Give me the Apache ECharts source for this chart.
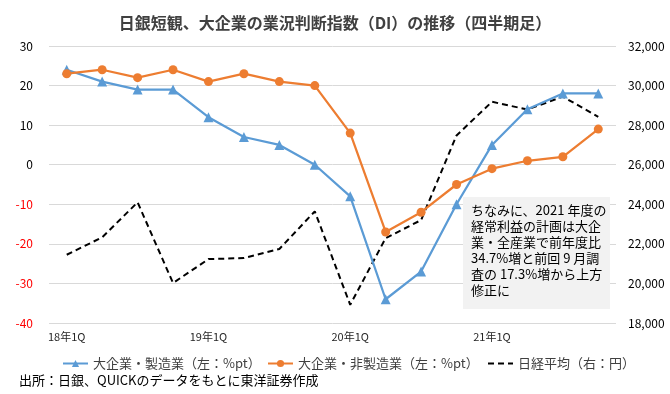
<!DOCTYPE html>
<html><head><meta charset="utf-8">
<script src="https://cdn.jsdelivr.net/npm/echarts@6/dist/echarts.min.js"></script>
<style>html,body{margin:0;padding:0;background:#fff}#c{width:670px;height:394px}</style>
</head><body><div id="c"></div>
<script>
const categories = ['18年1Q','18年2Q','18年3Q','18年4Q','19年1Q','19年2Q','19年3Q','19年4Q','20年1Q','20年2Q','20年3Q','20年4Q','21年1Q','21年2Q','21年3Q','21年4Q'];
const manufacturing = [24,21,19,19,12,7,5,0,-8,-34,-27,-10,5,14,18,18];
const nonManufacturing = [23,24,22,24,21,23,21,20,8,-17,-12,-5,-1,1,2,9];
const nikkei = [21450,22330,24100,20020,21230,21280,21740,23640,18920,22290,23200,27480,29180,28790,29440,28420];
const noteLines = ['ちなみに、2021 年度の','経常利益の計画は大企','業・全産業で前年度比','34.7%増と前回 9 月調','査の 17.3%増から上方','修正に'];
const seriesNames = ['大企業・製造業（左：%pt）','大企業・非製造業（左：%pt）','日経平均（右：円）'];

const FONT = '"Noto Sans CJK JP","Noto Sans",sans-serif';
const legendLefts = [57,262,482];
const chart = echarts.init(document.getElementById('c'));
chart.setOption({
  animation:false,
  backgroundColor:'#fff',
  textStyle:{fontFamily:FONT},
  title:{text:'日銀短観、大企業の業況判断指数（DI）の推移（四半期足）',left:'center',top:10,
    textStyle:{fontSize:16,fontWeight:'bold',color:'#404040',fontFamily:FONT}},
  grid:{left:49,right:54,top:46,bottom:71},
  legend:seriesNames.map(function(n,i){
    var d = i===2 ? {name:n,itemStyle:{opacity:0}} : {name:n};
    return {left:legendLefts[i],top:352,itemWidth:25,itemHeight:9,
      textStyle:{fontSize:13,color:'#404040',fontFamily:FONT},data:[d]};}),
  xAxis:{type:'category',data:categories,boundaryGap:true,
    axisLine:{show:false},axisTick:{show:false},
    axisLabel:{interval:3,fontSize:11,color:'#262626',margin:8,fontFamily:FONT}},
  yAxis:[
    {type:'value',min:-40,max:30,interval:10,position:'left',
     axisLine:{show:false},axisTick:{show:false},
     splitLine:{lineStyle:{color:'#d9d9d9',width:1}},
     axisLabel:{fontSize:12,margin:16,fontFamily:FONT,
       color:function(v){return v<0?'#ff0000':'#000000';}}},
    {type:'value',min:18000,max:32000,interval:2000,position:'right',
     axisLine:{show:false},axisTick:{show:false},splitLine:{show:false},
     axisLabel:{fontSize:12,margin:12,color:'#000',fontFamily:FONT,
       formatter:function(v){return v.toLocaleString('en-US');}}}
  ],
  series:[
    {name:seriesNames[0],type:'line',yAxisIndex:0,data:manufacturing,
     symbol:'triangle',symbolSize:10,lineStyle:{color:'#5b9bd5',width:2.25},
     itemStyle:{color:'#5b9bd5'},z:3},
    {name:seriesNames[1],type:'line',yAxisIndex:0,data:nonManufacturing,
     symbol:'circle',symbolSize:9,lineStyle:{color:'#ed7d31',width:2.25},
     itemStyle:{color:'#ed7d31'},z:3},
    {name:seriesNames[2],type:'line',yAxisIndex:1,data:nikkei,
     symbol:'none',lineStyle:{color:'#000',width:2,type:[6,4]},
     itemStyle:{color:'#000'},z:2}
  ],
  graphic:[
    {type:'rect',left:463,top:197,shape:{width:147,height:112},style:{fill:'#f2f2f2'},z:10},
    {type:'text',left:471,top:202,z:11,style:{text:noteLines.join('\n'),font:'13px '+FONT,lineHeight:16,fill:'#000'}},
    {type:'text',left:19,top:374,style:{text:'出所：日銀、QUICKのデータをもとに東洋証券作成',font:'13px '+FONT,fill:'#000'}}
  ]
});
</script></body></html>
